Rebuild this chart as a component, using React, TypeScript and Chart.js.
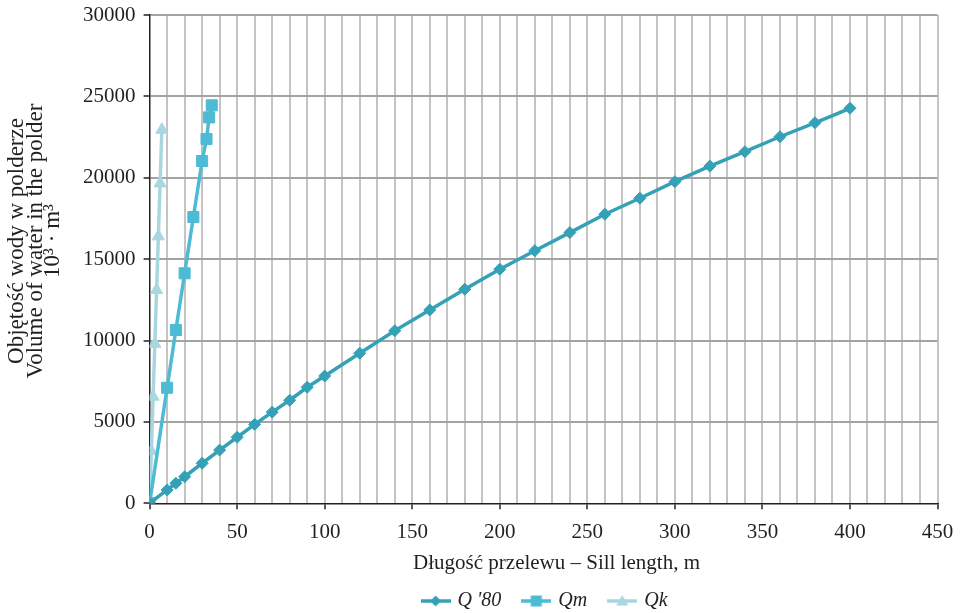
import React, { useEffect, useRef } from 'react';
import { Chart, registerables } from 'chart.js';

Chart.register(...registerables);

// ---- data ----
const q80Length = [0, 10, 15, 20, 30, 40, 50, 60, 70, 80, 90, 100, 120, 140, 160, 180, 200, 220, 240, 260, 280, 300, 320, 340, 360, 380, 400];
const q80Volume = [0, 820, 1230, 1630, 2460, 3270, 4060, 4850, 5600, 6330, 7130, 7820, 9220, 10600, 11880, 13150, 14380, 15520, 16630, 17760, 18740, 19760, 20720, 21600, 22520, 23380, 24270];
const qmLength = [0, 10, 15, 20, 25, 30, 32.5, 34, 35.5];
const qmVolume = [0, 7100, 10650, 14130, 17590, 21030, 22380, 23710, 24450];
const qkLength = [0, 1, 2, 3, 4, 5, 6, 7];
const qkVolume = [0, 3200, 6550, 9800, 13100, 16400, 19650, 22950];

const seriesLabels = ["Q '80", 'Qm', 'Qk'];
const seriesColors = ['#35a1b6', '#4dbbd3', '#a9d7e0'];
const seriesMarkers = ['rectRot', 'rect', 'triangle'];

const yTitleLines = ['Objętość wody w polderze', 'Volume of water in the polder', '10³ · m³'];
const xTitle = 'Długość przelewu – Sill length, m';

const xMin = 0;
const xMax = 450;
const xMinorStep = 10;
const xLabelStep = 50;
const yMin = 0;
const yMax = 30000;
const yStep = 5000;

const FONT = '"Liberation Serif", "Times New Roman", serif';
const TEXT = '#231f20';

function makeLegendIcon(color: string, marker: string): HTMLCanvasElement {
  const c = document.createElement('canvas');
  c.width = 30;
  c.height = 14;
  const g = c.getContext('2d')!;
  g.strokeStyle = color;
  g.fillStyle = color;
  g.lineWidth = 3.5;
  g.beginPath();
  g.moveTo(0, 7);
  g.lineTo(30, 7);
  g.stroke();
  g.beginPath();
  if (marker === 'rectRot') {
    g.moveTo(15, 1.5);
    g.lineTo(20.5, 7);
    g.lineTo(15, 12.5);
    g.lineTo(9.5, 7);
  } else if (marker === 'rect') {
    g.rect(9.5, 1.5, 11, 11);
  } else {
    g.moveTo(15, 1);
    g.lineTo(21, 11.5);
    g.lineTo(9, 11.5);
  }
  g.closePath();
  g.fill();
  return c;
}

const customPlugin = {
  id: 'customDecor',
  afterLayout(chart: any) {
    const lg = chart.legend;
    const ca = chart.chartArea;
    if (lg && ca) {
      const dx = (ca.left + ca.right) / 2 + 2 - (lg.left + lg.right) / 2;
      lg.left += dx;
      lg.right += dx;
      const pad = lg.options.labels.padding;
      const fs = lg.options.labels.font.size;
      const dy = ca.bottom + 97.7 - (lg.top + pad + fs / 2);
      lg.top += dy;
      lg.bottom += dy;
    }
  },
  afterDraw(chart: any) {
    const ctx = chart.ctx;
    const ca = chart.chartArea;
    ctx.save();
    ctx.fillStyle = TEXT;
    ctx.textAlign = 'center';
    ctx.textBaseline = 'middle';
    // y title
    ctx.font = `23px ${FONT}`;
    const yc = 241;
    const xs = [17, 35.5, 53];
    yTitleLines.forEach((line, i) => {
      ctx.save();
      ctx.translate(xs[i], yc);
      ctx.rotate(-Math.PI / 2);
      ctx.fillText(line, 0, 0);
      ctx.restore();
    });
    // x title
    ctx.font = `21px ${FONT}`;
    ctx.fillText(xTitle, (ca.left + ca.right) / 2 + 13, ca.bottom + 60);
    ctx.restore();
  },
};

export default function App() {
  const canvasRef = useRef<HTMLCanvasElement | null>(null);

  useEffect(() => {
    document.body.style.margin = '0';
    const canvas = canvasRef.current;
    if (!canvas) return;

    const xs = [q80Length, qmLength, qkLength];
    const ys = [q80Volume, qmVolume, qkVolume];
    const radii = [6, 7.8, 7];

    const datasets = seriesLabels.map((label, i) => ({
      label,
      data: xs[i].map((x, j) => ({ x, y: ys[i][j] })),
      borderColor: seriesColors[i],
      backgroundColor: seriesColors[i],
      borderWidth: 3.5,
      pointStyle: seriesMarkers[i] as any,
      pointRadius: radii[i],
      pointBorderWidth: 1,
      pointBackgroundColor: seriesColors[i],
      pointBorderColor: seriesColors[i],
      showLine: true,
      fill: false,
      tension: 0,
    }));

    const icons = seriesLabels.map((_, i) => makeLegendIcon(seriesColors[i], seriesMarkers[i]));

    const chart = new Chart(canvas, {
      type: 'scatter',
      data: { datasets },
      plugins: [customPlugin],
      options: {
        animation: false,
        responsive: false,
        layout: { padding: { top: 15, right: 25.5, left: 0, bottom: 0 } },
        plugins: {
          tooltip: { enabled: false },
          legend: {
            display: true,
            position: 'bottom',
            labels: {
              font: { family: FONT, size: 20, style: 'italic' },
              color: TEXT,
              usePointStyle: true,
              pointStyleWidth: 24,
              padding: 23,
              generateLabels: () =>
                seriesLabels.map((text, i) => ({
                  text,
                  fillStyle: seriesColors[i],
                  strokeStyle: seriesColors[i],
                  lineWidth: 0,
                  pointStyle: icons[i] as any,
                  hidden: false,
                  datasetIndex: i,
                  fontColor: TEXT,
                })),
            },
          },
        },
        scales: {
          x: {
            type: 'linear',
            min: xMin,
            max: xMax,
            afterFit: (scale: any) => {
              scale.height = 56.7;
              scale.paddingLeft = 0;
              scale.paddingRight = 0;
            },
            ticks: {
              stepSize: xMinorStep,
              autoSkip: false,
              maxRotation: 0,
              padding: 11,
              color: TEXT,
              font: { family: FONT, size: 21 },
              callback: (v: any) => (Number(v) % xLabelStep === 0 ? String(v) : ''),
            },
            grid: {
              color: (c: any) => (c.tick && c.tick.value === 0 ? 'rgba(0,0,0,0)' : '#c4c4c4'),
              lineWidth: 2,
              tickLength: 6,
              tickColor: (c: any) => (c.tick && c.tick.value % xLabelStep === 0 ? '#231f20' : 'rgba(0,0,0,0)'),
              tickWidth: 1.5,
            },
            border: { display: true, color: '#231f20', width: 1.5 },
          },
          y: {
            type: 'linear',
            min: yMin,
            max: yMax,
            afterFit: (scale: any) => {
              scale.width = 149.6;
              scale.paddingTop = 0;
              scale.paddingBottom = 0;
            },
            ticks: {
              stepSize: yStep,
              padding: 8,
              color: TEXT,
              font: { family: FONT, size: 21 },
              callback: (v: any) => String(v),
            },
            grid: {
              color: (c: any) => (c.tick && c.tick.value === 0 ? 'rgba(0,0,0,0)' : '#a3a3a3'),
              lineWidth: 2,
              tickLength: 6,
              tickColor: '#231f20',
              tickWidth: 1.5,
            },
            border: { display: true, color: '#231f20', width: 1.5 },
          },
        },
      },
    });

    return () => {
      chart.destroy();
    };
  }, []);

  return (
    <div style={{ width: 963, height: 613, position: 'relative' }}>
      <canvas ref={canvasRef} width={963} height={613} style={{ display: 'block' }} />
    </div>
  );
}
